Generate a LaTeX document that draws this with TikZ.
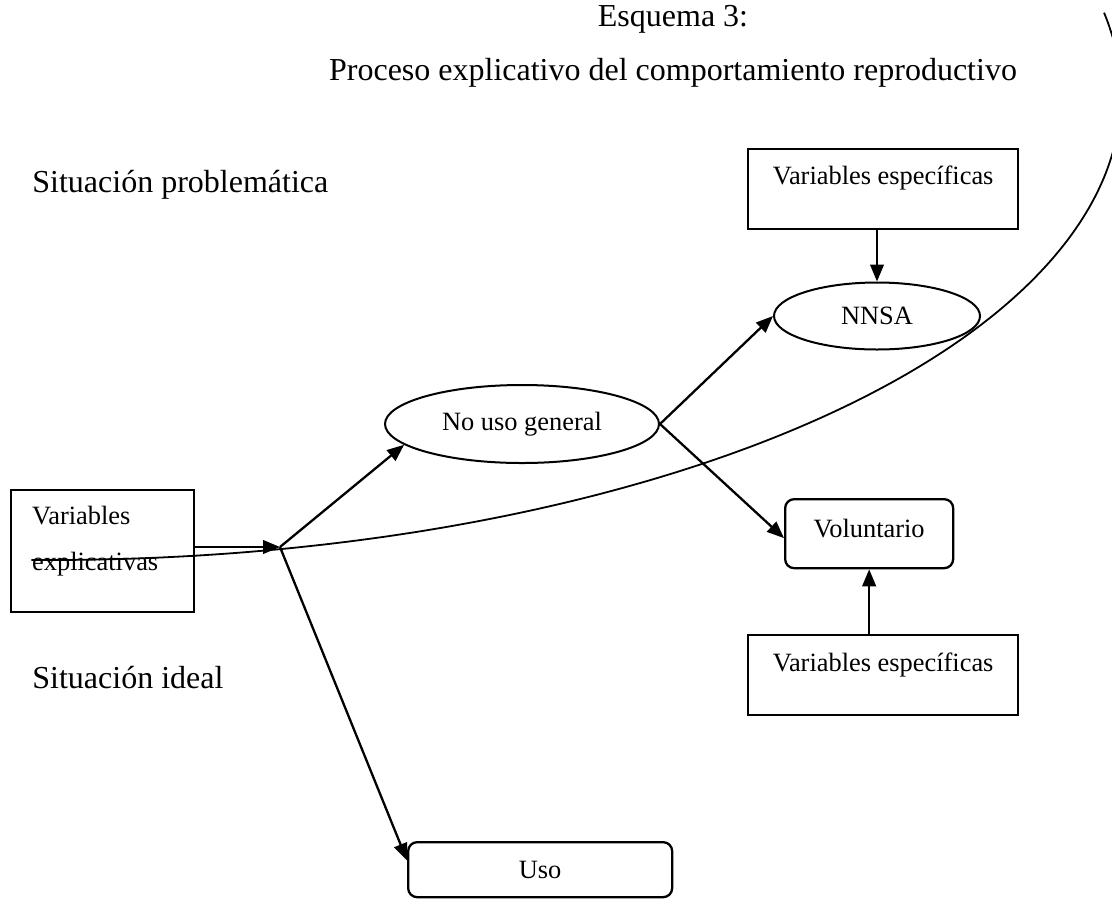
\documentclass[tikz,border=0pt]{standalone}
\usepackage{fontspec}
\setmainfont{Liberation Serif}
\usetikzlibrary{arrows.meta,shapes.geometric,calc}
\begin{document}
\begin{tikzpicture}[x=0.5pt,y=-0.5pt,
  big/.style={font=\fontsize{16}{19}\selectfont},
  small/.style={font=\fontsize{13.2}{16}\selectfont},
  sqbox/.style={draw,line width=1.15pt,rectangle,inner sep=0pt,small,align=center},
  rbox/.style={sqbox,rounded corners=4.5pt},
  ell/.style={draw,ellipse,line width=1pt,inner sep=0pt,small},
  arr/.style={line width=1.15pt,-{Triangle[length=8.5pt,width=6.8pt]}},
  curve/.style={line width=0.9pt}
]
\useasboundingbox (0,0) rectangle (1112,900);
\node[big,anchor=base] (t1) at (673,26) {Esquema 3:};
\node[big,anchor=base] (t2) at (673,80) {Proceso explicativo del comportamiento reproductivo};
\node[big,anchor=base west,inner sep=0pt] (sp) at (32,192) {Situación problemática};
\node[big,anchor=base west,inner sep=0pt] (si) at (32,688) {Situación ideal};

\node[sqbox,anchor=north west,minimum width=135pt,text height=17.5pt,text depth=22.5pt] (vetop) at (747,148) {Variables específicas};
\node[ell,minimum width=103pt,minimum height=33.5pt] (nnsa) at (877,316) {NNSA};
\node[ell,minimum width=137pt,minimum height=39pt] (nouso) at (522,424) {No uso general};
\node[rbox,anchor=north west,minimum width=84pt,text height=19pt,text depth=15.5pt] (volunt) at (784,498) {Voluntario};
\node[sqbox,anchor=north west,minimum width=135pt,text height=18pt,text depth=22pt] (vebot) at (747,634) {Variables específicas};
\node[sqbox,anchor=north west,align=left,text width=70.5pt,inner xsep=10.5pt,text height=17pt,text depth=44pt,font=\fontsize{13.2}{23}\selectfont] (vexp) at (10,489) {Variables\\explicativas};
\node[rbox,anchor=north west,minimum width=132pt,text height=18pt,text depth=9.5pt] (uso) at (407,841) {Uso};

\coordinate (J) at (280,547);

\begin{scope}
\clip (0,0) rectangle (1112,900);
\draw[curve] plot[domain=91:-10.2,samples=160,smooth] ({50+1071*cos(\x)},{95+465*sin(\x)});
\end{scope}

\draw[arr] (nnsa.north |- vetop.south) -- (nnsa.north);
\draw[arr] (volunt.south |- vebot.north) -- (volunt.south);
\draw[arr] (vexp.east |- J) -- (J);
\draw[arr] (J) -- (nouso.190);
\draw[arr] (J) -- (uso.176);
\draw[arr] (nouso.east) -- (nnsa.west);
\draw[arr] (nouso.east) -- (volunt.183);
\end{tikzpicture}
\end{document}
